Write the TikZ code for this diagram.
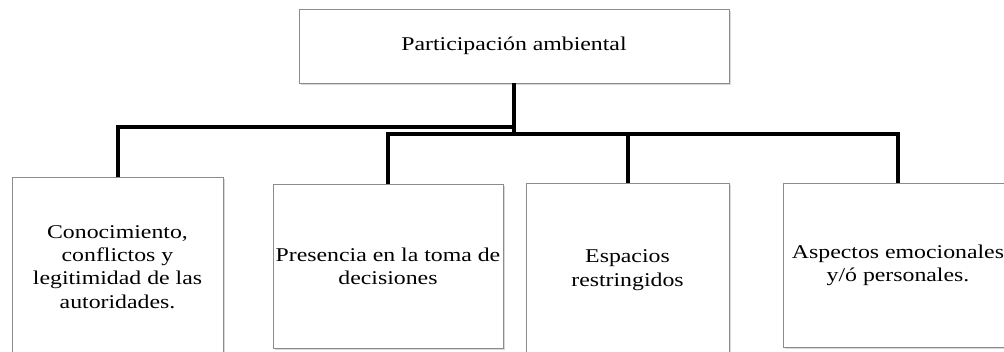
\documentclass[tikz,border=0pt]{standalone}
\usepackage{fontspec}
\setmainfont{Liberation Serif}[FakeStretch=1.22]
\usetikzlibrary{shadows}

\begin{document}
\begin{tikzpicture}[x=1pt,y=-1pt,
  box/.style={draw=black!45,line width=1pt,fill=white,inner sep=0pt,outer sep=0pt,
    align=center,font=\fontsize{19.5}{23.3}\selectfont,
    drop shadow={shadow xshift=2pt,shadow yshift=-2pt,fill=black!30}},
  link/.style={line width=4pt,line join=miter}]

\useasboundingbox (0,0) rectangle (1004,351);
\clip (0,0) rectangle (1004,351);

\node[box,minimum width=430pt,minimum height=74pt](top) at (514,46) {Participación ambiental};
\node[box,minimum width=211pt,minimum height=180pt](box1) at (117.5,267) {Conocimiento,\\conflictos y\\legitimidad de las\\autoridades.};
\node[box,minimum width=230pt,minimum height=164pt](box2) at (388,266) {Presencia en la toma de\\decisiones};
\node[box,minimum width=203pt,minimum height=174pt](box3) at (627.5,270) {Espacios\\restringidos};
\node[box,minimum width=230pt,minimum height=164pt](box4) at (898,265) {Aspectos emocionales\\y/ó personales.};

\coordinate (hubL) at (514,127);
\coordinate (hubR) at (514,134);

\draw[link] (top.south) -- (hubR);
\draw[link] (box1.north) |- (hubL);
\draw[link] (box2.north) |- (hubR) -| (box4.north);
\draw[link] (box3.north) -- (box3.north |- hubR);
\end{tikzpicture}
\end{document}
